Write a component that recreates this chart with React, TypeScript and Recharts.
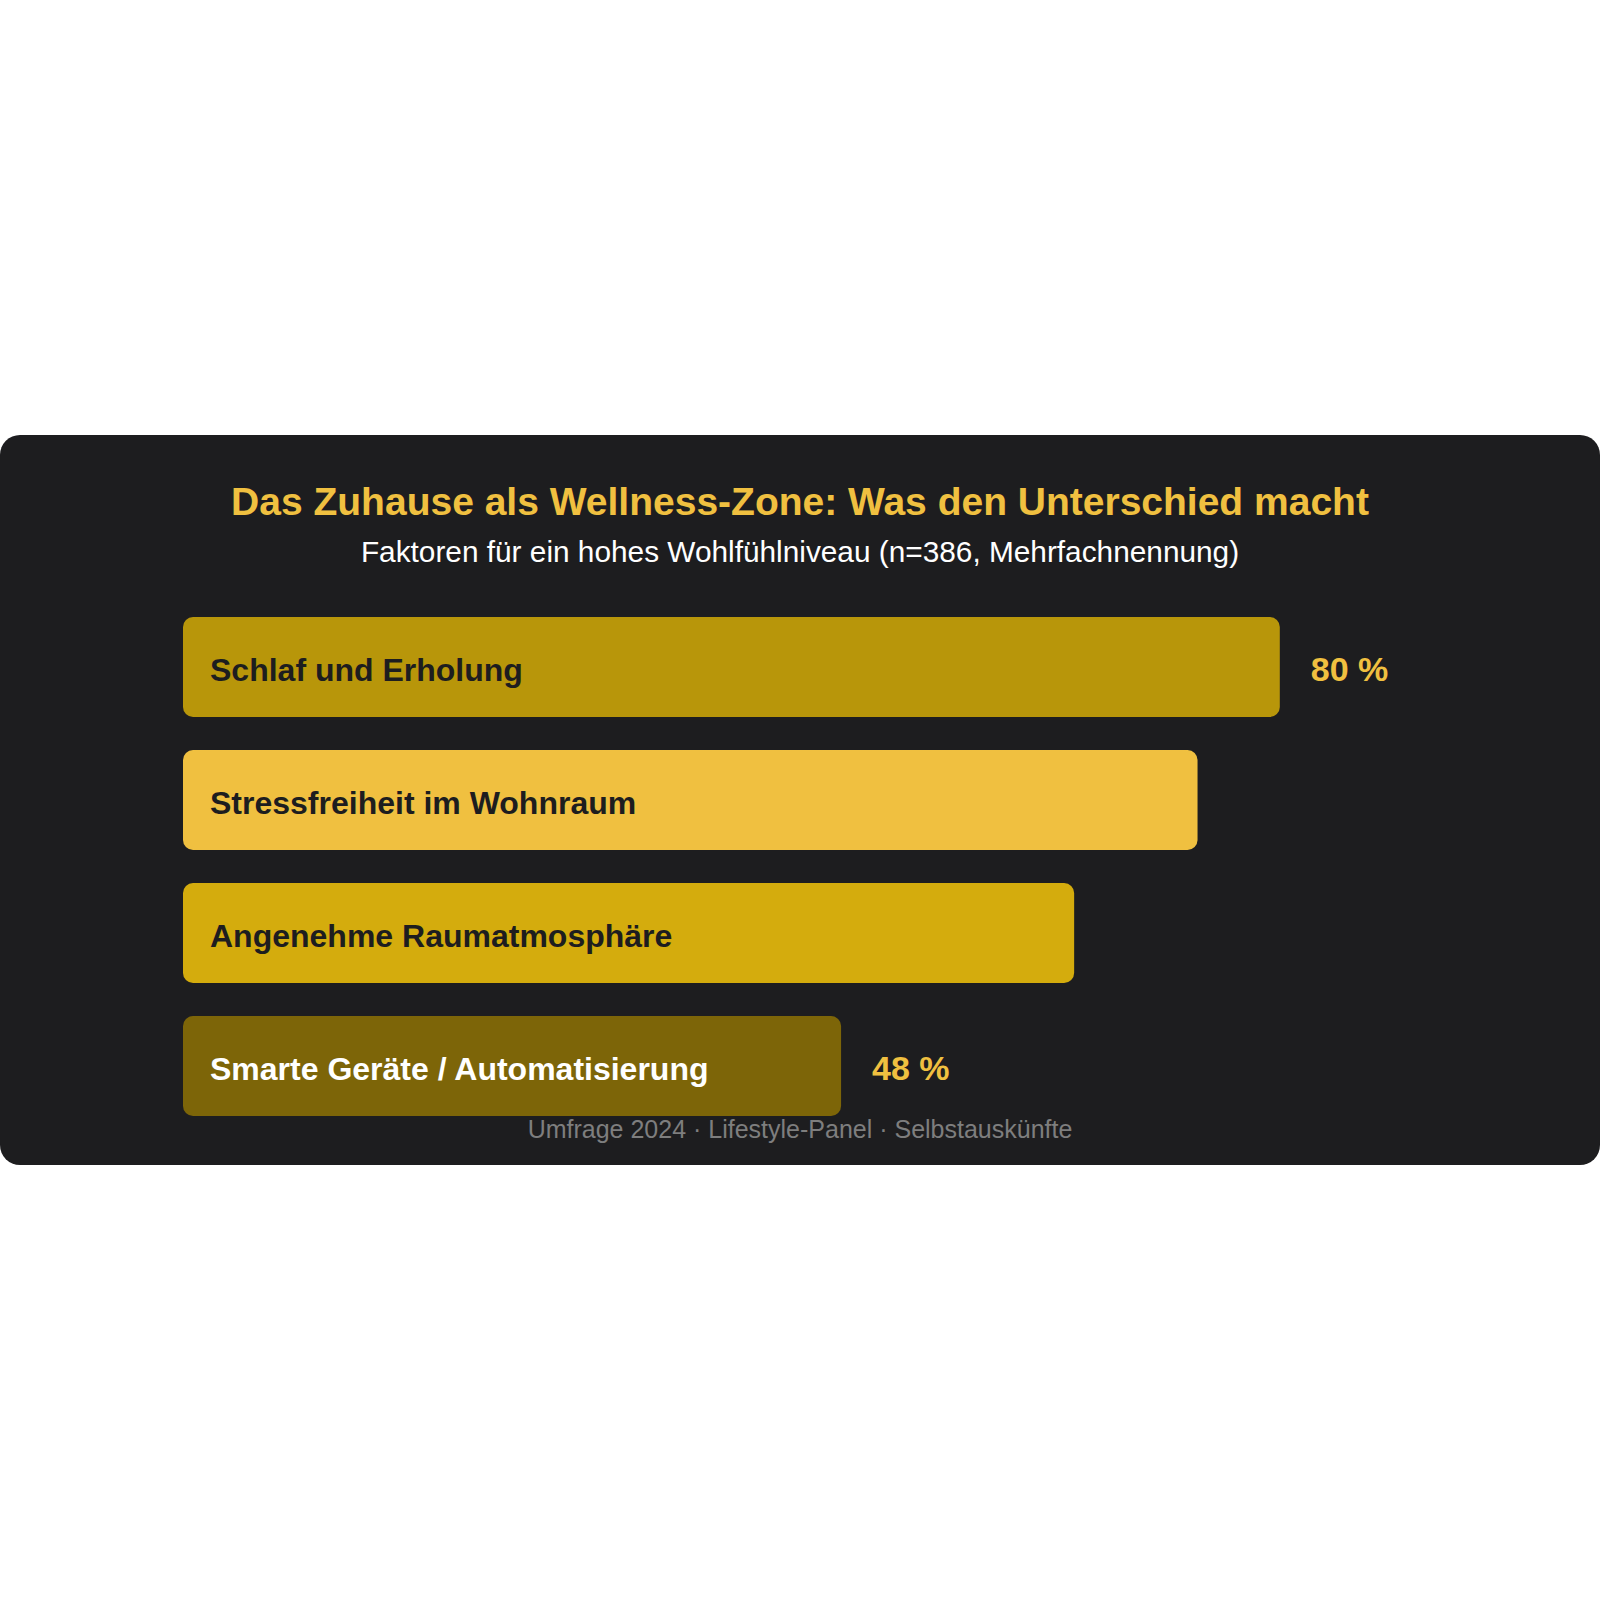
import { BarChart, Bar, XAxis, YAxis, LabelList, Cell } from "recharts"

const categories = [
    "Schlaf und Erholung",
    "Stressfreiheit im Wohnraum",
    "Angenehme Raumatmosphäre",
    "Smarte Geräte / Automatisierung",
]
const values = [80, 74, 65, 48]
const barColors = ["#B8960A", "#F0C040", "#D4AC0D", "#7D6508"]
const labelColors = ["#1D1D1F", "#1D1D1F", "#1D1D1F", "#FFFFFF"]
const showValue = [true, false, false, true]

const FONT = "'Liberation Sans', Arial, Helvetica, sans-serif"
const CARD_W = 1600
const CARD_H = 730

const data = categories.map((name, i) => ({
    name,
    value: values[i],
    valueLabel: showValue[i] ? `${values[i]} %` : "",
}))

function CategoryLabel(props: any) {
    const { x, y, height, value } = props
    const i = categories.indexOf(value)
    return (
        <text x={Number(x) + 27} y={Number(y) + Number(height) / 2 + 14} fill={labelColors[i]}
            fontSize={32} fontWeight={700} fontFamily={FONT}>
            {value}
        </text>
    )
}

function ValueLabel(props: any) {
    const { x, y, width, height, value } = props
    if (!value) return null
    return (
        <text x={Number(x) + Number(width) + 31} y={Number(y) + Number(height) / 2 + 14} fill="#F0C040"
            fontSize={34} fontWeight={700} fontFamily={FONT}>
            {value}
        </text>
    )
}

export default function App() {
    return (
        <div style={{ position: "absolute", left: 0, top: 435, width: CARD_W, height: CARD_H, background: "#1D1D1F", borderRadius: 20, overflow: "hidden" }}>
            <svg width={CARD_W} height={CARD_H} style={{ position: "absolute", left: 0, top: 0 }}>
                <text x={800} y={80} textAnchor="middle" fill="#F0C040" fontSize={39} fontWeight={700} fontFamily={FONT}>
                    Das Zuhause als Wellness-Zone: Was den Unterschied macht
                </text>
                <text x={800} y={127} textAnchor="middle" fill="#FFFFFF" fontSize={29.8} fontFamily={FONT}>
                    Faktoren für ein hohes Wohlfühlniveau (n=386, Mehrfachnennung)
                </text>
                <text x={800} y={703} textAnchor="middle" fill="#7E7E7E" fontSize={25} fontFamily={FONT}>
                    Umfrage 2024 · Lifestyle-Panel · Selbstauskünfte
                </text>
            </svg>
            <div style={{ position: "absolute", left: 0, top: 0 }}>
                <BarChart width={CARD_W} height={CARD_H} data={data} layout="vertical"
                    margin={{ top: 165, right: 46, bottom: 33, left: 183 }}>
                    <XAxis type="number" domain={[0, 100]} hide />
                    <YAxis type="category" dataKey="name" hide width={0} />
                    <Bar dataKey="value" barSize={100} radius={10} isAnimationActive={false}>
                        {data.map((d, i) => (
                            <Cell key={d.name} fill={barColors[i]} />
                        ))}
                        <LabelList dataKey="name" content={<CategoryLabel />} />
                        <LabelList dataKey="valueLabel" content={<ValueLabel />} />
                    </Bar>
                </BarChart>
            </div>
        </div>
    )
}
